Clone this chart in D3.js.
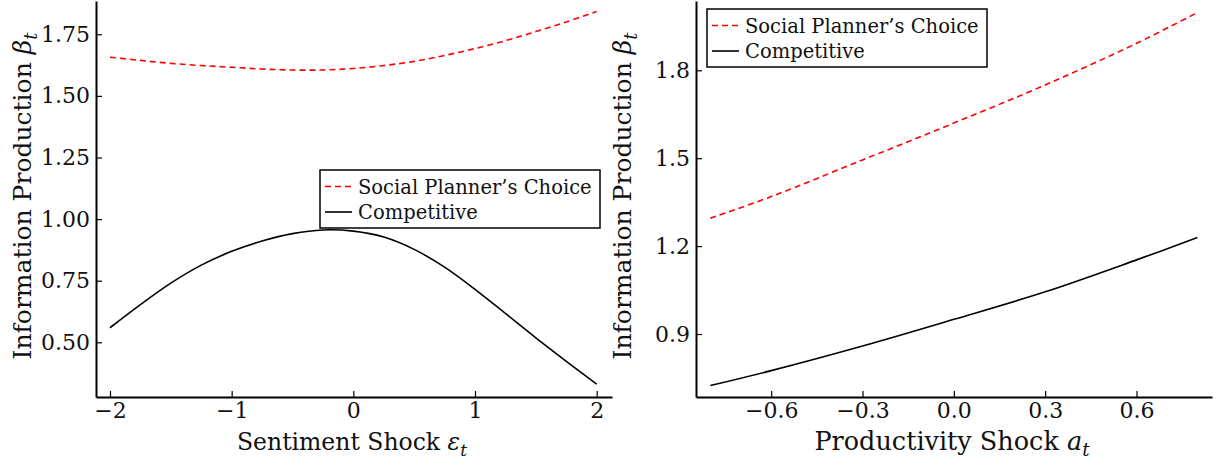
<!DOCTYPE html>
<html><head><meta charset="utf-8">
<script src="https://cdn.jsdelivr.net/npm/d3@7"></script>
<style>
body{margin:0;background:#fff;}
svg{display:block;}
</style></head>
<body><svg id="chart" width="1221" height="463"></svg>
<script>
// ---- Data ----
const sentimentShock = [-2, -1.75, -1.5, -1.25, -1, -0.75, -0.5, -0.25, 0, 0.25, 0.5, 0.75, 1, 1.25, 1.5, 1.75, 2];
const sentimentPlanner = [1.657, 1.644, 1.632, 1.623, 1.616, 1.609, 1.605, 1.605, 1.611, 1.623, 1.640, 1.664, 1.692, 1.724, 1.761, 1.800, 1.842];
const sentimentCompetitive = [0.559, 0.653, 0.740, 0.813, 0.869, 0.911, 0.941, 0.956, 0.951, 0.927, 0.877, 0.805, 0.715, 0.617, 0.518, 0.423, 0.330];

const productivityShock = [-0.8, -0.6, -0.3, 0, 0.3, 0.6, 0.8];
const productivityPlanner = [1.295, 1.369, 1.494, 1.620, 1.750, 1.892, 1.997];
const productivityCompetitive = [0.724, 0.775, 0.859, 0.950, 1.044, 1.153, 1.229];

const leftXTicks = [-2, -1, 0, 1, 2];
const leftYTicks = [0.50, 0.75, 1.00, 1.25, 1.50, 1.75];
const rightXTicks = [-0.6, -0.3, 0.0, 0.3, 0.6];
const rightYTicks = [0.9, 1.2, 1.5, 1.8];

const seriesNames = ["Social Planner\u2019s Choice", "Competitive"];

// ---- Drawing ----
const FONT = "'DejaVu Serif', 'Liberation Serif', serif";
const svg = d3.select("#chart");
const minus = s => s.replace("-", "\u2212");

function panel(opt) {
  const g = svg.append("g").attr("font-family", FONT);
  const x = d3.scaleLinear().domain(opt.xDomain).range(opt.xRange);
  const y = d3.scaleLinear().domain(opt.yDomain).range(opt.yRange);

  const line = d3.line().x(d => x(d[0])).y(d => y(d[1])).curve(d3.curveCatmullRom);
  g.append("path").datum(opt.xs.map((v, i) => [v, opt.planner[i]]))
    .attr("d", line).attr("fill", "none").attr("stroke", "#ff0000")
    .attr("stroke-width", 1.6).attr("stroke-dasharray", "6,4");
  g.append("path").datum(opt.xs.map((v, i) => [v, opt.comp[i]]))
    .attr("d", line).attr("fill", "none").attr("stroke", "#000")
    .attr("stroke-width", 1.6);

  const xa = g.append("g").attr("transform", `translate(0,${opt.yRange[0]})`)
    .call(d3.axisBottom(x).tickValues(opt.xTicks).tickSizeInner(-6).tickSizeOuter(0)
      .tickPadding(5).tickFormat(d => minus(d3.format(opt.xFmt)(d))));
  const ya = g.append("g").attr("transform", `translate(${opt.xRange[0]},0)`)
    .call(d3.axisLeft(y).tickValues(opt.yTicks).tickSizeInner(-6).tickSizeOuter(0)
      .tickPadding(6).tickFormat(d => d3.format(opt.yFmt)(d)));
  [xa, ya].forEach(a => {
    a.attr("font-family", FONT).attr("font-size", 22);
    a.select(".domain").attr("stroke", "#000").attr("stroke-width", 2);
    a.selectAll(".tick line").attr("stroke", "#000").attr("stroke-width", 1.2);
    a.selectAll(".tick text").attr("fill", "#111");
  });

  // x label
  const xl = g.append("text")
    .attr("x", (opt.xRange[0] + opt.xRange[1]) / 2 - 2).attr("y", 450)
    .attr("text-anchor", "middle").attr("font-size", opt.xLabelSize).attr("fill", "#111");
  xl.append("tspan").text(opt.xLabel);
  xl.append("tspan").attr("font-style", "italic").text(opt.xSym);
  xl.append("tspan").attr("font-style", "italic").attr("font-size", opt.xLabelSize * 0.72)
    .attr("dy", 6).text("t");

  // y label
  const yl = g.append("text")
    .attr("transform", `translate(${opt.yLabelX},${(opt.yRange[0] + opt.yRange[1]) / 2 - 3}) rotate(-90)`)
    .attr("text-anchor", "middle").attr("font-size", 25).attr("fill", "#111");
  yl.append("tspan").text("Information Production ");
  yl.append("tspan").attr("font-style", "italic").text("\u03B2");
  yl.append("tspan").attr("font-style", "italic").attr("font-size", 18)
    .attr("dy", 6).text("t");

  // legend
  const L = opt.legend;
  const lg = g.append("g").attr("transform", `translate(${L.x},${L.y})`);
  lg.append("rect").attr("width", L.w).attr("height", L.h)
    .attr("fill", "#fff").attr("stroke", "#000").attr("stroke-width", 1.5);
  const rows = [{stroke: "#ff0000", dash: "6,4"}, {stroke: "#000", dash: null}];
  rows.forEach((r, i) => {
    const cy = 16.5 + i * 25.5;
    lg.append("line").attr("x1", 5).attr("x2", 32).attr("y1", cy).attr("y2", cy)
      .attr("stroke", r.stroke).attr("stroke-width", 1.6)
      .attr("stroke-dasharray", r.dash);
    lg.append("text").attr("x", 38).attr("y", cy + 7).attr("font-size", 19.5)
      .attr("fill", "#111").text(seriesNames[i]);
  });
}

panel({
  xs: sentimentShock, planner: sentimentPlanner, comp: sentimentCompetitive,
  xDomain: [-2.115, 2.126], xRange: [96, 612],
  yDomain: [0.278, 1.885], yRange: [397, 1],
  xTicks: leftXTicks, yTicks: leftYTicks, xFmt: "d", yFmt: ".2f",
  xLabel: "Sentiment Shock ", xSym: "\u03B5", xLabelSize: 23.5, yLabelX: 31,
  legend: {x: 320, y: 170, w: 280, h: 58}
});
panel({
  xs: productivityShock, planner: productivityPlanner, comp: productivityCompetitive,
  xDomain: [-0.847, 0.848], xRange: [696, 1212],
  yDomain: [0.685, 2.0365], yRange: [397, 1],
  xTicks: rightXTicks, yTicks: rightYTicks, xFmt: ".1f", yFmt: ".1f",
  xLabel: "Productivity Shock ", xSym: "a", xLabelSize: 25.5, yLabelX: 631,
  legend: {x: 707, y: 9, w: 280, h: 58}
});
</script></body></html>
